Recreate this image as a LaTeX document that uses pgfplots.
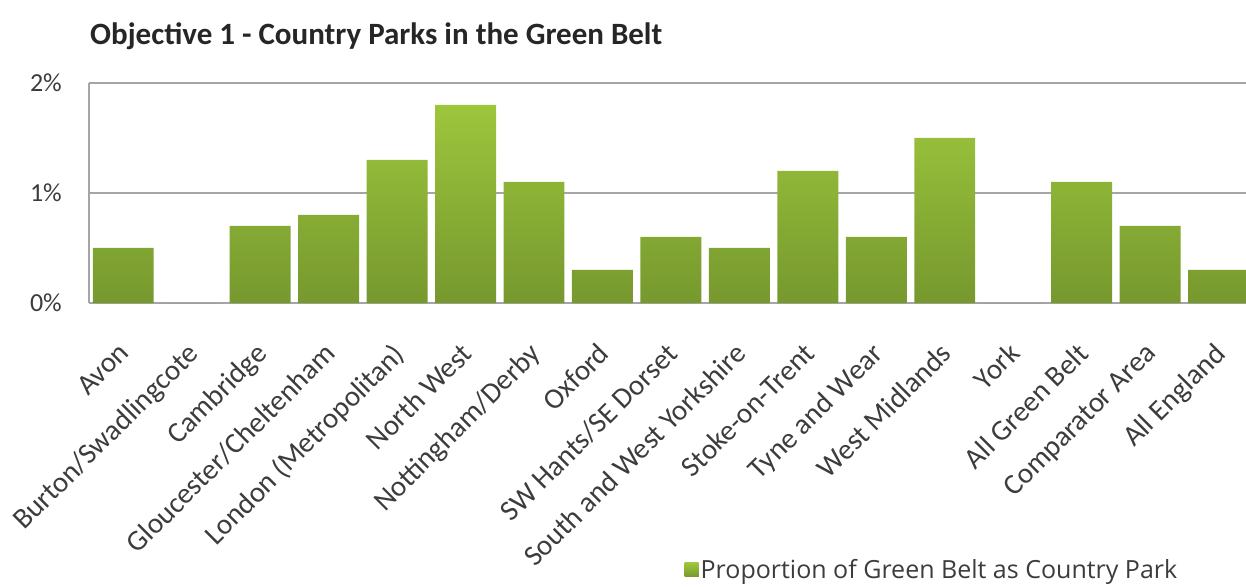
\documentclass[border=0pt]{standalone}
\usepackage{fontspec}
\setmainfont{Carlito}
\newfontfamily\legfont{Open Sans}
\usepackage{pgfplots}
\pgfplotsset{compat=1.18}
\definecolor{bartop}{RGB}{157,198,60}
\definecolor{barbot}{RGB}{118,152,46}
\definecolor{barmid}{RGB}{138,178,52}
\definecolor{gridc}{RGB}{165,165,165}
\definecolor{txt}{RGB}{60,60,60}
\begin{document}
\begin{tikzpicture}[x=1pt,y=1pt]
\path[use as bounding box] (0,0) rectangle (1246,586);
\node[anchor=base west, font=\fontsize{31}{36}\selectfont\bfseries, inner sep=0pt, text=black!85] at (90,541) {Objective 1 - Country Parks in the Green Belt};
\begin{axis}[
  at={(89pt,283pt)}, anchor=south west,
  scale only axis, width=1157pt, height=220pt,
  xmin=-0.5, xmax=16.4, ymin=0, ymax=2,
  ytick={0,1,2}, yticklabels={0\%,1\%,2\%},
  xtick={0,...,16},
  xticklabels={Avon,Burton/Swadlingcote,Cambridge,Gloucester/Cheltenham,London (Metropolitan),North West,Nottingham/Derby,Oxford,SW Hants/SE Dorset,South and West Yorkshire,Stoke-on-Trent,Tyne and Wear,West Midlands,York,All Green Belt,Comparator Area,All England},
  major tick length=0pt,
  ymajorgrids, major grid style={draw=gridc, line width=1.2pt},
  axis x line*=bottom, axis y line*=left,
  x axis line style={draw=none},
  y axis line style={-, draw=gridc, line width=1.2pt},
  yticklabel style={font=\fontsize{26}{30}\selectfont, text=txt, inner sep=0pt, xshift=-27pt},
  xticklabel style={font=\fontsize{29}{34}\selectfont, text=txt, inner sep=0pt, xshift=-6pt, yshift=-38pt, rotate=45, anchor=north east},
  legend style={at={(0.7286,-1.2136)}, anchor=center, draw=none, fill=none, font=\legfont\fontsize{25}{30}\selectfont, text=txt},
  legend image code/.code={\fill[barmid] (-4pt,-7pt) rectangle (10pt,7pt);},
]
\addplot[ybar, bar width=0.89, draw=none, top color=bartop, bottom color=barbot] coordinates {
(0,0.5) (1,0) (2,0.7) (3,0.8) (4,1.3) (5,1.8) (6,1.1) (7,0.3) (8,0.6) (9,0.5) (10,1.2) (11,0.6) (12,1.5) (13,0) (14,1.1) (15,0.7) (16,0.3)
};
\addlegendentry{Proportion of Green Belt as Country Park}
\end{axis}
\end{tikzpicture}
\end{document}
